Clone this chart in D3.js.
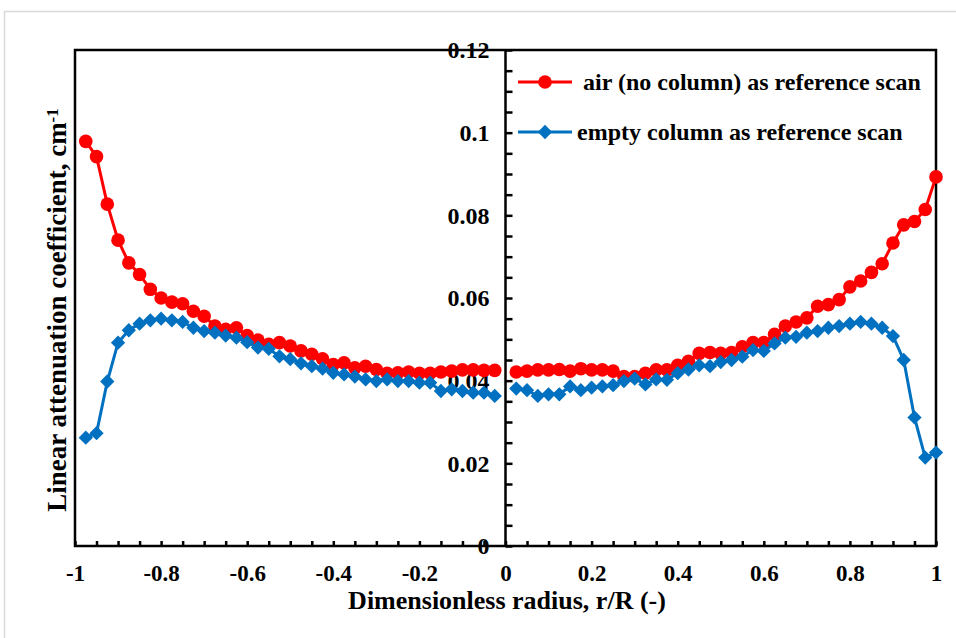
<!DOCTYPE html>
<html lang="en">
	<head>
		<meta charset="utf-8">
		<title>Linear attenuation coefficient</title>
		<script type="text/javascript" src="https://cdn.jsdelivr.net/npm/d3@7"></script>
		<style type="text/css">
			body { margin: 0; background: #fff; }
			text {
				font-family: "Liberation Serif", "Times New Roman", serif;
				font-weight: bold;
				fill: #000;
				}
			.tick line { stroke: #000; stroke-width: 2.5; }
			.domain { display: none; }
		</style>
	</head>
	<body>
		<script type="text/javascript">

			// radius positions, left half of the column
			var rLeft = [-0.975, -0.95, -0.925, -0.9, -0.875, -0.85, -0.825, -0.8, -0.775, -0.75,
				-0.725, -0.7, -0.675, -0.65, -0.625, -0.6, -0.575, -0.55, -0.525, -0.5,
				-0.475, -0.45, -0.425, -0.4, -0.375, -0.35, -0.325, -0.3, -0.275, -0.25,
				-0.225, -0.2, -0.175, -0.15, -0.125, -0.1, -0.075, -0.05, -0.025];
			// radius positions, right half
			var rRight = [0.025, 0.05, 0.075, 0.1, 0.125, 0.15, 0.175, 0.2, 0.225, 0.25,
				0.275, 0.3, 0.325, 0.35, 0.375, 0.4, 0.425, 0.45, 0.475, 0.5,
				0.525, 0.55, 0.575, 0.6, 0.625, 0.65, 0.675, 0.7, 0.725, 0.75,
				0.775, 0.8, 0.825, 0.85, 0.875, 0.9, 0.925, 0.95, 0.975, 1.0];

			// air (no column) as reference scan
			var airLeft = [0.0979, 0.0942, 0.0827, 0.0740, 0.0685, 0.0657, 0.0621, 0.0600, 0.0590, 0.0586,
				0.0568, 0.0556, 0.0532, 0.0524, 0.0528, 0.0509, 0.0498, 0.0488, 0.0492, 0.0484,
				0.0472, 0.0464, 0.0453, 0.0439, 0.0443, 0.0431, 0.0435, 0.0427, 0.0418, 0.0419,
				0.0421, 0.0418, 0.0418, 0.0421, 0.0423, 0.0426, 0.0426, 0.0425, 0.0425];
			var airRight = [0.0421, 0.0423, 0.0426, 0.0426, 0.0427, 0.0423, 0.0429, 0.0426, 0.0426, 0.0423,
				0.0410, 0.0410, 0.0418, 0.0426, 0.0426, 0.0437, 0.0447, 0.0466, 0.0468, 0.0466,
				0.0468, 0.0482, 0.0492, 0.0492, 0.0512, 0.0532, 0.0542, 0.0552, 0.0580, 0.0584,
				0.0596, 0.0627, 0.0641, 0.0662, 0.0683, 0.0733, 0.0777, 0.0785, 0.0814, 0.0893];

			// empty column as reference scan
			var emptyLeft = [0.0262, 0.0273, 0.0398, 0.0492, 0.0522, 0.0538, 0.0546, 0.0550, 0.0546, 0.0542,
				0.0528, 0.0520, 0.0516, 0.0509, 0.0504, 0.0493, 0.0480, 0.0477, 0.0459, 0.0452,
				0.0442, 0.0435, 0.0429, 0.0419, 0.0415, 0.0410, 0.0403, 0.0399, 0.0403, 0.0399,
				0.0399, 0.0395, 0.0395, 0.0375, 0.0379, 0.0375, 0.0371, 0.0371, 0.0363];
			var emptyRight = [0.0381, 0.0377, 0.0363, 0.0367, 0.0367, 0.0386, 0.0377, 0.0383, 0.0386, 0.0389,
				0.0399, 0.0405, 0.0391, 0.0403, 0.0402, 0.0418, 0.0427, 0.0437, 0.0435, 0.0445,
				0.0450, 0.0458, 0.0474, 0.0472, 0.0490, 0.0504, 0.0506, 0.0516, 0.0520, 0.0528,
				0.0532, 0.0538, 0.0542, 0.0538, 0.0528, 0.0508, 0.0450, 0.0311, 0.0214, 0.0226];

			var xTickLabels = [-1, -0.8, -0.6, -0.4, -0.2, 0, 0.2, 0.4, 0.6, 0.8, 1];
			var yTickLabels = [0, 0.02, 0.04, 0.06, 0.08, 0.1, 0.12];
			var seriesNames = ["air (no column) as reference scan", "empty column as reference scan"];

			var w = 956;
			var h = 638;
			var red = "#ff0000";
			var blue = "#0070c0";

			var xScale = d3.scaleLinear().domain([-1, 1]).range([75, 936]);
			var yScale = d3.scaleLinear().domain([0, 0.12]).range([546, 50]);

			var svg = d3.select("body")
						.append("svg")
						.attr("width", w)
						.attr("height", h);

			// light frame round the chart area
			svg.append("rect")
				.attr("x", 4.5).attr("y", 11.5)
				.attr("width", 970).attr("height", 640)
				.attr("fill", "none")
				.attr("stroke", "#d9d9d9")
				.attr("stroke-width", 1.5);

			var x0 = xScale(0);

			// y tick labels sit left of the centre axis, under the data
			var yLabels = d3.axisLeft(yScale)
							.tickValues(yTickLabels)
							.tickSize(0)
							.tickPadding(16)
							.tickFormat(function(d) { return d === 0 ? "0" : String(+d.toFixed(2)); });
			svg.append("g")
				.attr("transform", "translate(" + x0 + ",0)")
				.call(yLabels)
				.selectAll("text")
				.style("font-size", "24px");

			// minor ticks, every 0.005 on y and every 0.05 on x
			var yMinor = d3.range(0, 0.1201, 0.005);
			var xMinor = d3.range(-1, 1.001, 0.05);

			svg.append("g")
				.attr("transform", "translate(" + x0 + ",0)")
				.call(d3.axisRight(yScale).tickValues(yMinor).tickSize(7).tickFormat(""));

			svg.append("g")
				.attr("transform", "translate(0," + yScale(0) + ")")
				.call(d3.axisTop(xScale).tickValues(xMinor).tickSize(5).tickFormat(""));

			// x tick labels below the box
			svg.append("g")
				.attr("transform", "translate(0," + yScale(0) + ")")
				.call(d3.axisBottom(xScale).tickValues(xTickLabels).tickSize(0).tickPadding(19)
					.tickFormat(function(d) { return String(d); }))
				.selectAll("text")
				.style("font-size", "23px");

			// plot box and centre axis
			svg.append("rect")
				.attr("x", xScale(-1)).attr("y", yScale(0.12))
				.attr("width", xScale(1) - xScale(-1))
				.attr("height", yScale(0) - yScale(0.12))
				.attr("fill", "none")
				.attr("stroke", "#000")
				.attr("stroke-width", 2.5);

			svg.append("line")
				.attr("x1", x0).attr("x2", x0)
				.attr("y1", yScale(0.12)).attr("y2", yScale(0))
				.attr("stroke", "#000")
				.attr("stroke-width", 2.5);

			function pairs(xs, ys) {
				return xs.map(function(d, i) { return [d, ys[i]]; });
			}

			var line = d3.line()
						.x(function(d) { return xScale(d[0]); })
						.y(function(d) { return yScale(d[1]); });

			var diamond = d3.symbol().type(d3.symbolDiamond2).size(130);

			function drawSeries(data, color, marker) {
				svg.append("path")
					.datum(data)
					.attr("d", line)
					.attr("fill", "none")
					.attr("stroke", color)
					.attr("stroke-width", 3);

				if (marker === "circle") {
					svg.append("g").selectAll("circle")
						.data(data)
						.enter()
						.append("circle")
						.attr("cx", function(d) { return xScale(d[0]); })
						.attr("cy", function(d) { return yScale(d[1]); })
						.attr("r", 6.8)
						.attr("fill", color);
				}
				else {
					svg.append("g").selectAll("path")
						.data(data)
						.enter()
						.append("path")
						.attr("d", diamond)
						.attr("transform", function(d) {
							return "translate(" + xScale(d[0]) + "," + yScale(d[1]) + ")";
						})
						.attr("fill", color);
				}
			}

			drawSeries(pairs(rLeft, airLeft), red, "circle");
			drawSeries(pairs(rRight, airRight), red, "circle");
			drawSeries(pairs(rLeft, emptyLeft), blue, "diamond");
			drawSeries(pairs(rRight, emptyRight), blue, "diamond");

			// legend
			var legend = svg.append("g");
			var legendRows = [
				{name: seriesNames[0], color: red, marker: "circle", y: 82, tx: 583},
				{name: seriesNames[1], color: blue, marker: "diamond", y: 132, tx: 577}
			];
			legendRows.forEach(function(row) {
				legend.append("line")
					.attr("x1", 518).attr("x2", 572)
					.attr("y1", row.y).attr("y2", row.y)
					.attr("stroke", row.color)
					.attr("stroke-width", 3);
				if (row.marker === "circle") {
					legend.append("circle")
						.attr("cx", 545).attr("cy", row.y).attr("r", 6.8)
						.attr("fill", row.color);
				}
				else {
					legend.append("path")
						.attr("d", diamond)
						.attr("transform", "translate(545," + row.y + ")")
						.attr("fill", row.color);
				}
				legend.append("text")
					.attr("x", row.tx)
					.attr("y", row.y)
					.attr("dy", "0.33em")
					.style("font-size", "24px")
					.text(row.name);
			});

			// axis titles
			svg.append("text")
				.attr("x", 507)
				.attr("y", 609)
				.attr("text-anchor", "middle")
				.style("font-size", "26px")
				.text("Dimensionless radius, r/R (-)");

			var yTitle = svg.append("text")
				.attr("transform", "translate(66,310) rotate(-90)")
				.attr("text-anchor", "middle")
				.style("font-size", "27px");
			yTitle.append("tspan").text("Linear attenuation coefficient, cm");
			yTitle.append("tspan")
				.attr("dy", "-0.45em")
				.style("font-size", "17px")
				.text("-1");

		</script>
	</body>
</html>
